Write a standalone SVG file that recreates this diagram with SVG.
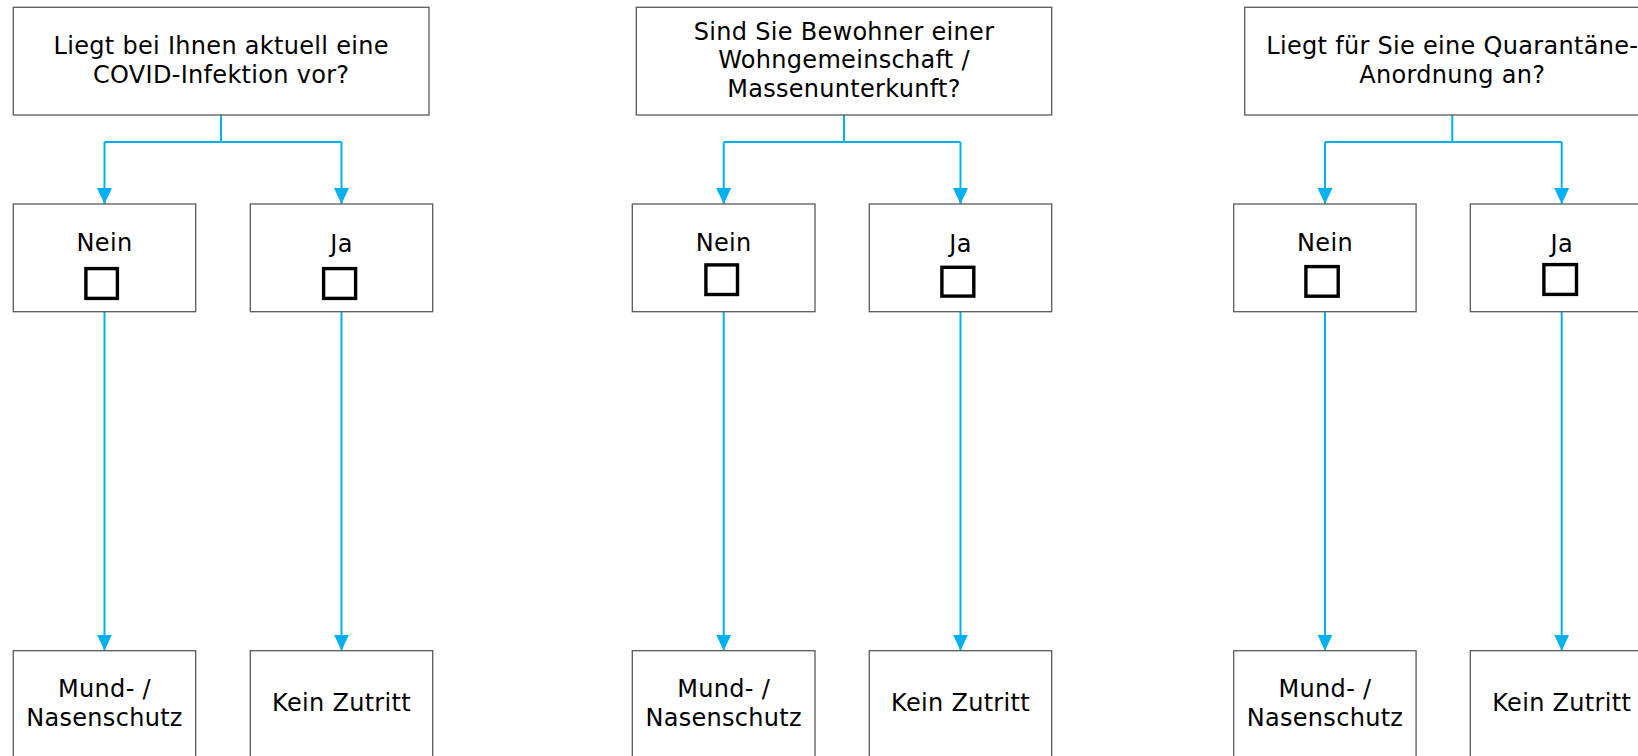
<svg xmlns="http://www.w3.org/2000/svg" width="1638" height="756" viewBox="0 0 1638 756">
<style>
.box{fill:#fff;stroke:#5a5a5a;stroke-width:1.3}
.chk{fill:none;stroke:#000;stroke-width:3.4}
.t{font-family:"DejaVu Sans",Verdana,sans-serif;font-size:24px;letter-spacing:0.3px;fill:#000;text-anchor:middle}
.c{fill:none;stroke:#00B0F0;stroke-width:2}
</style>
<defs>
<marker id="ah" viewBox="0 0 16 16" markerWidth="16" markerHeight="16" refX="16" refY="8" orient="auto" markerUnits="userSpaceOnUse">
<path d="M0,0.5 L16,8 L0,15.5 z" fill="#00B0F0"/>
</marker>
</defs>
<rect width="1638" height="756" fill="#fff"/>
<g id="connectors">
<path class="c" d="M221,115 V142 M104.5,142 H341.5" />
<path class="c" d="M104.5,142 V204" marker-end="url(#ah)"/>
<path class="c" d="M341.5,142 V204" marker-end="url(#ah)"/>
<path class="c" d="M104.5,311.7 V650.7" marker-end="url(#ah)"/>
<path class="c" d="M341.5,311.7 V650.7" marker-end="url(#ah)"/>
<path class="c" d="M844,115 V142 M723.7,142 H960.5" />
<path class="c" d="M723.7,142 V204" marker-end="url(#ah)"/>
<path class="c" d="M960.5,142 V204" marker-end="url(#ah)"/>
<path class="c" d="M723.7,311.7 V650.7" marker-end="url(#ah)"/>
<path class="c" d="M960.5,311.7 V650.7" marker-end="url(#ah)"/>
<path class="c" d="M1452.3,115 V142 M1325,142 H1561.7" />
<path class="c" d="M1325,142 V204" marker-end="url(#ah)"/>
<path class="c" d="M1561.7,142 V204" marker-end="url(#ah)"/>
<path class="c" d="M1325,311.7 V650.7" marker-end="url(#ah)"/>
<path class="c" d="M1561.7,311.7 V650.7" marker-end="url(#ah)"/>
</g>
<g id="q1">
<rect class="box" x="13.3" y="7.3" width="415.7" height="107.7"/>
<text class="t" x="221.2" y="54">Liegt bei Ihnen aktuell eine</text>
<text class="t" x="221.2" y="82.5">COVID-Infektion vor?</text>
</g>
<g id="q1-nein">
<rect class="box" x="13.3" y="204" width="182.4" height="107.7"/>
<text class="t" x="104.5" y="250.5">Nein</text>
<rect class="chk" x="85.9" y="268.6" width="31.5" height="29.8"/>
</g>
<g id="q1-ja">
<rect class="box" x="250.3" y="204" width="182.4" height="107.7"/>
<text class="t" x="341.5" y="252">Ja</text>
<rect class="chk" x="323.6" y="268.6" width="32" height="29.8"/>
</g>
<g id="q1-mns">
<rect class="box" x="13.3" y="650.7" width="182.4" height="107.7"/>
<text class="t" x="104.5" y="696.7">Mund- /</text>
<text class="t" x="104.5" y="725.7">Nasenschutz</text>
</g>
<g id="q1-kein">
<rect class="box" x="250.3" y="650.7" width="182.4" height="107.7"/>
<text class="t" x="341.5" y="711">Kein Zutritt</text>
</g>
<g id="q2">
<rect class="box" x="636.3" y="7.3" width="415.4" height="107.7"/>
<text class="t" x="844" y="39.5">Sind Sie Bewohner einer</text>
<text class="t" x="844" y="68.2">Wohngemeinschaft /</text>
<text class="t" x="844" y="96.7">Massenunterkunft?</text>
</g>
<g id="q2-nein">
<rect class="box" x="632.3" y="204" width="182.7" height="107.7"/>
<text class="t" x="723.7" y="250.5">Nein</text>
<rect class="chk" x="705.9" y="264.9" width="31.6" height="29.6"/>
</g>
<g id="q2-ja">
<rect class="box" x="869.3" y="204" width="182.4" height="107.7"/>
<text class="t" x="960.5" y="252">Ja</text>
<rect class="chk" x="941.9" y="267.3" width="31.9" height="28.8"/>
</g>
<g id="q2-mns">
<rect class="box" x="632.3" y="650.7" width="182.7" height="107.7"/>
<text class="t" x="723.7" y="696.7">Mund- /</text>
<text class="t" x="723.7" y="725.7">Nasenschutz</text>
</g>
<g id="q2-kein">
<rect class="box" x="869.3" y="650.7" width="182.4" height="107.7"/>
<text class="t" x="960.5" y="711">Kein Zutritt</text>
</g>
<g id="q3">
<rect class="box" x="1244.7" y="7.3" width="415.4" height="107.7"/>
<text class="t" x="1452.3" y="54">Liegt für Sie eine Quarantäne-</text>
<text class="t" x="1452.3" y="82.5">Anordnung an?</text>
</g>
<g id="q3-nein">
<rect class="box" x="1233.7" y="204" width="182.4" height="107.7"/>
<text class="t" x="1325" y="250.5">Nein</text>
<rect class="chk" x="1305.9" y="266.6" width="32.3" height="29.6"/>
</g>
<g id="q3-ja">
<rect class="box" x="1470.3" y="204" width="182.4" height="107.7"/>
<text class="t" x="1561.7" y="252">Ja</text>
<rect class="chk" x="1543.9" y="264.6" width="32.6" height="29.8"/>
</g>
<g id="q3-mns">
<rect class="box" x="1233.7" y="650.7" width="182.4" height="107.7"/>
<text class="t" x="1325" y="696.7">Mund- /</text>
<text class="t" x="1325" y="725.7">Nasenschutz</text>
</g>
<g id="q3-kein">
<rect class="box" x="1470.3" y="650.7" width="182.4" height="107.7"/>
<text class="t" x="1561.7" y="711">Kein Zutritt</text>
</g>
</svg>
